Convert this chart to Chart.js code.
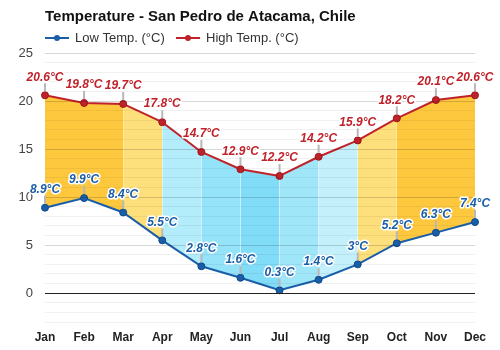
<!DOCTYPE html>
<html>
<head>
<meta charset="utf-8">
<script src="https://cdn.jsdelivr.net/npm/chart.js@4.4.0/dist/chart.umd.min.js"></script>
<style>
  html, body { margin: 0; padding: 0; background: #fff; }
  #wrap { width: 500px; height: 350px; position: relative; }
</style>
</head>
<body>
<div id="wrap"><canvas id="tempChart"></canvas></div>
<script>
const months = ['Jan', 'Feb', 'Mar', 'Apr', 'May', 'Jun', 'Jul', 'Aug', 'Sep', 'Oct', 'Nov', 'Dec'];
const lowTemps = [8.9, 9.9, 8.4, 5.5, 2.8, 1.6, 0.3, 1.4, 3, 5.2, 6.3, 7.4];
const highTemps = [20.6, 19.8, 19.7, 17.8, 14.7, 12.9, 12.2, 14.2, 15.9, 18.2, 20.1, 20.6];
// colour of the band between two neighbouring months
const bandColors = ['#fdc83e', '#fdc83e', '#fddf7b', '#b3ecfb', '#95e3f9', '#80dcf7',
                    '#a0e6f9', '#c3f0fb', '#fddf7b', '#fdc83e', '#fdc83e'];

const LOW_COLOR = '#1a5ea8';
const HIGH_COLOR = '#c0222a';
const FONT = '"Liberation Sans", Arial, sans-serif';

// title + legend drawn at the top left
const headerPlugin = {
    id: 'header',
    afterDraw(chart) {
        const ctx = chart.ctx;
        ctx.save();
        ctx.fillStyle = '#111';
        ctx.font = 'bold 15px ' + FONT;
        ctx.textBaseline = 'middle';
        ctx.textAlign = 'left';
        ctx.fillText('Temperature - San Pedro de Atacama, Chile', 45, 17);

        const items = [
            { text: 'Low Temp. (°C)', color: LOW_COLOR, x: 45 },
            { text: 'High Temp. (°C)', color: HIGH_COLOR, x: 176 }
        ];
        ctx.font = '13px ' + FONT;
        items.forEach(it => {
            ctx.strokeStyle = it.color;
            ctx.lineWidth = 2;
            ctx.beginPath();
            ctx.moveTo(it.x, 38);
            ctx.lineTo(it.x + 24, 38);
            ctx.stroke();
            ctx.fillStyle = it.color;
            ctx.beginPath();
            ctx.arc(it.x + 12, 38, 3, 0, Math.PI * 2);
            ctx.fill();
            ctx.fillStyle = '#333';
            ctx.fillText(it.text, it.x + 30, 38);
        });
        ctx.restore();
    }
};

// value labels with a small leader line above each point
const valueLabels = {
    id: 'valueLabels',
    afterDraw(chart) {
        const ctx = chart.ctx;
        ctx.save();
        ctx.font = 'italic bold 12px ' + FONT;
        ctx.textAlign = 'center';
        ctx.textBaseline = 'middle';
        chart.data.datasets.forEach((ds, i) => {
            const meta = chart.getDatasetMeta(i);
            meta.data.forEach((pt, j) => {
                ctx.strokeStyle = '#b8b8b8';
                ctx.lineWidth = 2;
                ctx.beginPath();
                ctx.moveTo(pt.x, pt.y - 4);
                ctx.lineTo(pt.x, pt.y - 12);
                ctx.stroke();

                const txt = ds.data[j] + '°C';
                ctx.lineWidth = 3;
                ctx.lineJoin = 'round';
                ctx.strokeStyle = '#fff';
                ctx.strokeText(txt, pt.x, pt.y - 18);
                ctx.fillStyle = ds.borderColor;
                ctx.fillText(txt, pt.x, pt.y - 18);
            });
        });
        ctx.restore();
    }
};

new Chart(document.getElementById('tempChart'), {
    type: 'line',
    data: {
        labels: months,
        datasets: [{
            label: 'Low Temp. (°C)',
            data: lowTemps,
            borderColor: LOW_COLOR,
            backgroundColor: LOW_COLOR,
            pointBackgroundColor: LOW_COLOR,
            pointBorderColor: '#0d4a8a',
            borderWidth: 2,
            pointRadius: 3.5,
            pointBorderWidth: 1,
            tension: 0,
            fill: false
        }, {
            label: 'High Temp. (°C)',
            data: highTemps,
            borderColor: HIGH_COLOR,
            backgroundColor: '#fdc83e',
            pointBackgroundColor: HIGH_COLOR,
            pointBorderColor: '#9a161c',
            borderWidth: 2,
            pointRadius: 3.5,
            pointBorderWidth: 1,
            tension: 0,
            fill: 0,
            segment: {
                backgroundColor: c => bandColors[c.p0DataIndex]
            }
        }]
    },
    options: {
        responsive: true,
        maintainAspectRatio: false,
        animation: false,
        layout: { padding: { top: 53, right: 25, bottom: 0, left: 0 } },
        scales: {
            x: {
                grid: { display: false, drawTicks: false },
                border: { display: false },
                ticks: {
                    padding: 8,
                    color: '#222',
                    font: { family: FONT, size: 12, weight: 'bold' }
                },
                afterFit: s => { s.height = 28; }
            },
            y: {
                min: -3,
                max: 25,
                grid: {
                    z: 1,
                    drawTicks: false,
                    color: c => c.tick.value === 0 ? '#222' :
                        (c.tick.value % 5 === 0 ? 'rgba(0,0,0,0.16)' : 'rgba(0,0,0,0.055)')
                },
                border: { display: false },
                ticks: {
                    stepSize: 1,
                    autoSkip: false,
                    padding: 12,
                    color: '#444',
                    font: { family: FONT, size: 13 },
                    callback: v => (v % 5 === 0 ? v : '')
                },
                afterFit: s => { s.width = 45; }
            }
        },
        plugins: {
            legend: { display: false },
            tooltip: { enabled: false }
        }
    },
    plugins: [headerPlugin, valueLabels]
});
</script>
</body>
</html>
